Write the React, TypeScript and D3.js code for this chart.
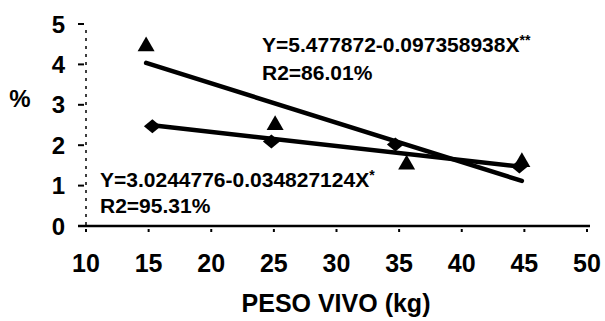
import React from "react";
import * as d3 from "d3";

// Live weight (kg) and percentage for the two groups
const triX = [14.8, 25.1, 35.6, 44.8];
const triY = [4.45, 2.5, 1.52, 1.58];
const diaX = [15.3, 24.8, 34.7, 44.6];
const diaY = [2.47, 2.09, 2.02, 1.47];

// Fitted regressions: Y = a + b X
const triFit = { a: 5.477872, b: -0.097358938 };
const diaFit = { a: 3.0244776, b: -0.034827124 };

const xTicks = [10, 15, 20, 25, 30, 35, 40, 45, 50];
const yTicks = [0, 1, 2, 3, 4, 5];

const W = 605;
const H = 321;
const FONT = "'Liberation Sans', Arial, sans-serif";

export default function App() {
  const x = d3.scaleLinear().domain([10, 50]).range([86, 587]);
  const y = d3.scaleLinear().domain([0, 5]).range([226, 24]);

  const fitLine = (fit: { a: number; b: number }, xs: number[]) => {
    const x0 = d3.min(xs) as number;
    const x1 = d3.max(xs) as number;
    const line = d3
      .line<number>()
      .x((v) => x(v))
      .y((v) => y(fit.a + fit.b * v));
    return line([x0, x1]) as string;
  };

  const tri = d3.symbol().type(d3.symbolTriangle).size(125)() as string;
  const diamond = "M-8.5,0L0,-7L8.5,0L0,7Z";

  return (
    <svg
      width={W}
      height={H}
      style={{ position: "absolute", left: 0, top: 0, background: "#fff" }}
      fontFamily={FONT}
      fontWeight="bold"
    >
      <rect width={W} height={H} fill="#fff" />

      {/* y axis (dotted) */}
      <line x1={x(10)} x2={x(10)} y1={y(5) + 6} y2={y(0)} stroke="#000" strokeWidth={1.5} strokeDasharray="3,5" />
      {yTicks.map((t) => (
        <g key={"yt" + t}>
          <line x1={x(10) - 8} x2={x(10) - 2} y1={y(t)} y2={y(t)} stroke="#000" strokeWidth={2} />
          <text x={65} y={y(t)} dy="0.36em" textAnchor="end" fontSize={24}>
            {t}
          </text>
        </g>
      ))}

      {/* x axis */}
      <line x1={x(10) - 8} x2={x(50) + 3} y1={y(0)} y2={y(0)} stroke="#000" strokeWidth={2.5} />
      {xTicks.map((t) => (
        <g key={"xt" + t}>
          <line x1={x(t)} x2={x(t)} y1={y(0) + 3} y2={y(0) + 6} stroke="#000" strokeWidth={2} />
          <text x={x(t)} y={272} textAnchor="middle" fontSize={25}>
            {t}
          </text>
        </g>
      ))}

      <text x={20} y={98} dy="0.36em" textAnchor="middle" fontSize={24}>
        %
      </text>
      <text x={336} y={312} textAnchor="middle" fontSize={25}>
        PESO VIVO (kg)
      </text>

      {/* regression lines */}
      <path d={fitLine(triFit, triX)} fill="none" stroke="#000" strokeWidth={4.5} strokeLinecap="round" />
      <path d={fitLine(diaFit, diaX)} fill="none" stroke="#000" strokeWidth={4.5} strokeLinecap="round" />

      {/* observed points */}
      {triX.map((v, i) => (
        <path key={"t" + i} d={tri} transform={`translate(${x(v)},${y(triY[i])})`} fill="#000" />
      ))}
      {diaX.map((v, i) => (
        <path key={"d" + i} d={diamond} transform={`translate(${x(v)},${y(diaY[i])})`} fill="#000" />
      ))}

      {/* equations */}
      <text x={262} y={52} fontSize={21}>
        Y=5.477872-0.097358938X
        <tspan fontSize={14} dy={-7}>**</tspan>
      </text>
      <text x={262} y={80} fontSize={21}>
        R2=86.01%
      </text>
      <text x={100} y={187} fontSize={21}>
        Y=3.0244776-0.034827124X
        <tspan fontSize={14} dy={-7}>*</tspan>
      </text>
      <text x={100} y={213} fontSize={21}>
        R2=95.31%
      </text>
    </svg>
  );
}
